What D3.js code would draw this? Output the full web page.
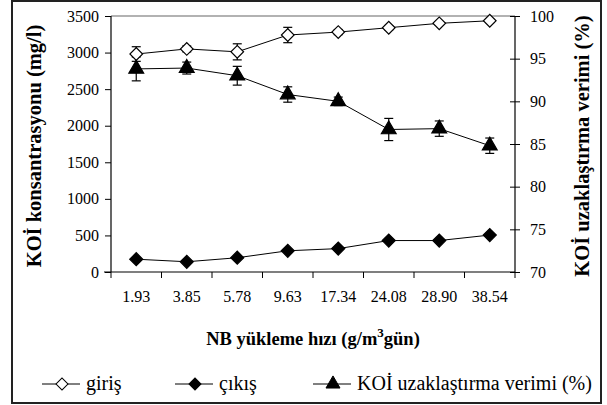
<!DOCTYPE html>
<html><head><meta charset="utf-8">
<script src="https://cdn.jsdelivr.net/npm/d3@7"></script>
<style>body{margin:0;background:#fff}svg{display:block}</style>
</head><body><svg id="c" width="607" height="405"></svg>
<script>
const categories = ["1.93","3.85","5.78","9.63","17.34","24.08","28.90","38.54"];
const giris = [2980,3050,3010,3240,3280,3340,3400,3435];
const girisErr = [100,40,110,105,35,30,25,25];
const cikis = [175,140,195,290,320,430,430,505];
const verim = [93.8,93.9,93.0,90.8,90.0,86.7,86.8,84.8];
const verimErr = [1.4,0.7,1.1,0.9,0.5,1.3,0.9,0.9];
const leftTicks = [0,500,1000,1500,2000,2500,3000,3500];
const rightTicks = [70,75,80,85,90,95,100];

const FONT = '"Liberation Serif"';
const svg = d3.select("#c");
const L=111, R=515, T=16, B=272;
const x = d3.scaleBand().domain(categories).range([L,R]);
const yL = d3.scaleLinear().domain([0,3500]).range([B,T]);
const yR = d3.scaleLinear().domain([70,100]).range([B,T]);
const cx = d => x(d)+x.bandwidth()/2;

svg.append("rect").attr("x",12).attr("y",1).attr("width",589).attr("height",402)
  .attr("fill","none").attr("stroke","#222").attr("stroke-width",2);

svg.append("line").attr("x1",L).attr("x2",R).attr("y1",T).attr("y2",T).attr("stroke","#999").attr("stroke-width",1.3);

const gl = svg.append("g").attr("transform",`translate(${L},0)`)
  .call(d3.axisLeft(yL).tickValues(leftTicks).tickSize(6).tickPadding(6).tickFormat(d3.format("d")));
const gr = svg.append("g").attr("transform",`translate(${R},0)`)
  .call(d3.axisRight(yR).tickValues(rightTicks).tickSize(5).tickPadding(10));
gr.selectAll(".tick line").attr("x1",-5).attr("x2",5);
const gx = svg.append("g").attr("transform",`translate(0,${B})`)
  .call(d3.axisBottom(x).tickSize(0).tickPadding(19));
gx.selectAll(".tick text").attr("dy","0.71em");
const bounds = d3.range(categories.length+1).map(i=>L+i*x.step());
gx.selectAll(".bt").data(bounds).join("line").attr("x1",d=>d).attr("x2",d=>d).attr("y1",0).attr("y2",6).attr("stroke","#000");

[gl,gr,gx].forEach(g=>{
  g.selectAll(".domain").attr("stroke","#000").attr("stroke-width",1.2);
  g.selectAll(".tick line").attr("stroke","#000");
  g.selectAll("text").style("font-family",FONT).attr("font-size",16).attr("fill","#000");
});
gl.select(".domain").attr("d",`M0,${T}V${B}`);
gr.select(".domain").attr("d",`M0,${T}V${B}`);
gx.select(".domain").attr("d",`M${L-7},0H${R}`);

function errbars(vals, errs, y){
  const g = svg.append("g").attr("stroke","#000").attr("stroke-width",1.2);
  categories.forEach((c,i)=>{
    const X=cx(c), y1=y(vals[i]+errs[i]), y2=y(vals[i]-errs[i]);
    g.append("line").attr("x1",X).attr("x2",X).attr("y1",y1).attr("y2",y2);
    g.append("line").attr("x1",X-4.5).attr("x2",X+4.5).attr("y1",y1).attr("y2",y1);
    g.append("line").attr("x1",X-4.5).attr("x2",X+4.5).attr("y1",y2).attr("y2",y2);
  });
}
errbars(giris,girisErr,yL);
errbars(verim,verimErr,yR);

function series(vals,y,sym,size,fill,rot){
  svg.append("path").datum(vals).attr("fill","none").attr("stroke","#000").attr("stroke-width",1)
    .attr("d",d3.line().x((d,i)=>cx(categories[i])).y(d=>y(d)));
  svg.append("g").selectAll("path").data(vals).join("path")
    .attr("transform",(d,i)=>`translate(${cx(categories[i])},${y(d)}) rotate(${rot})`)
    .attr("d",d3.symbol(sym,size)).attr("fill",fill).attr("stroke","#000").attr("stroke-width",1.2);
}
series(giris,yL,d3.symbolSquare,80,"#fff",45);
series(cikis,yL,d3.symbolSquare,85,"#000",45);
series(verim,yR,d3.symbolTriangle,95,"#000",0);

function label(sel,fs){ return sel.style("font-family",FONT).attr("font-weight","bold").attr("font-size",fs).attr("fill","#000"); }
label(svg.append("text").attr("transform",`translate(41,${(T+B)/2+2}) rotate(-90)`).attr("text-anchor","middle"),20.5)
  .text("KOİ konsantrasyonu (mg/l)");
label(svg.append("text").attr("transform",`translate(589,${(T+B)/2+2}) rotate(-90)`).attr("text-anchor","middle"),20.5)
  .text("KOİ uzaklaştırma verimi (%)");
const xt = label(svg.append("text").attr("x",(L+R)/2).attr("y",345).attr("text-anchor","middle"),18.5);
xt.append("tspan").text("NB yükleme hızı (g/m");
xt.append("tspan").attr("dy",-8).attr("font-size",13).text("3");
xt.append("tspan").attr("dy",8).text("gün)");

const legend = [
  {label:"giriş", sym:d3.symbolSquare, fill:"#fff", x:42, rot:45, size:72},
  {label:"çıkış", sym:d3.symbolSquare, fill:"#000", x:175, rot:45, size:72},
  {label:"KOİ uzaklaştırma verimi (%)", sym:d3.symbolTriangle, fill:"#000", x:313, rot:0, size:85}
];
const lg = svg.append("g");
legend.forEach(l=>{
  const g = lg.append("g").attr("transform",`translate(${l.x},384)`);
  g.append("line").attr("x1",0).attr("x2",38).attr("stroke","#000");
  g.append("path").attr("transform",`translate(20,0) rotate(${l.rot})`).attr("d",d3.symbol(l.sym,l.size)).attr("fill",l.fill).attr("stroke","#000");
  g.append("text").attr("x",44).attr("y",6).style("font-family",FONT).attr("font-size",20).attr("fill","#000").text(l.label);
});
</script></body></html>
